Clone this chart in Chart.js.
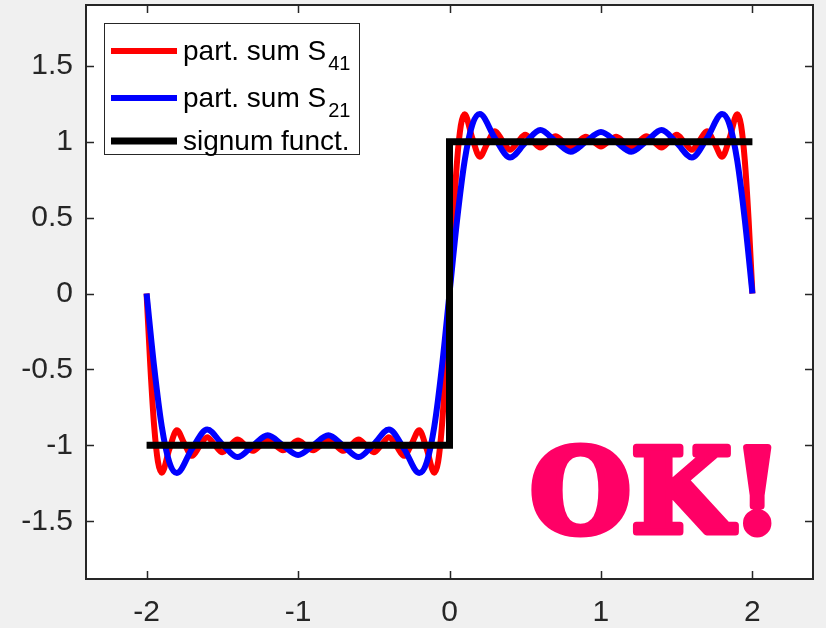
<!DOCTYPE html>
<html>
<head>
<meta charset="utf-8">
<script src="https://cdn.jsdelivr.net/npm/chart.js@4.4.1/dist/chart.umd.min.js"></script>
<style>
  html, body { margin: 0; padding: 0; background: #f0f0f0; }
  #wrap { width: 826px; height: 628px; }
</style>
</head>
<body>
<div id="wrap"><canvas id="c" width="826" height="628"></canvas></div>
<script>
// Partial Fourier sums of the signum function on [-2, 2]
const xS21 = [-2, -1.95, -1.9, -1.85, -1.8, -1.7, -1.6, -1.5, -1.4, -1.3, -1.2, -1.1, -1.0,
  -0.9, -0.8, -0.7, -0.6, -0.5, -0.4, -0.3, -0.2, -0.15, -0.1, -0.05, 0,
  0.05, 0.1, 0.15, 0.2, 0.3, 0.4, 0.5, 0.6, 0.7, 0.8, 0.9, 1.0,
  1.1, 1.2, 1.3, 1.4, 1.5, 1.6, 1.7, 1.8, 1.85, 1.9, 1.95, 2];
const yS21 = [0, -0.483, -0.874, -1.110, -1.182, -1.023, -0.896, -0.992, -1.077, -1.003, -0.934, -0.999, -1.063,
  -0.999, -0.934, -1.003, -1.077, -0.992, -0.896, -1.023, -1.182, -1.110, -0.874, -0.483, 0,
  0.483, 0.874, 1.110, 1.182, 1.023, 0.896, 0.992, 1.077, 1.003, 0.934, 0.999, 1.063,
  0.999, 0.934, 1.003, 1.077, 0.992, 0.896, 1.023, 1.182, 1.110, 0.874, 0.483, 0];

const xS41 = [-2, -1.975, -1.95, -1.925, -1.9, -1.85, -1.8, -1.75, -1.7, -1.65, -1.6, -1.55, -1.5,
  -1.45, -1.4, -1.35, -1.3, -1.25, -1.2, -1.15, -1.1, -1.05, -1.0,
  -0.95, -0.9, -0.85, -0.8, -0.75, -0.7, -0.65, -0.6, -0.55, -0.5,
  -0.45, -0.4, -0.35, -0.3, -0.25, -0.2, -0.15, -0.1, -0.075, -0.05, -0.025, 0,
  0.025, 0.05, 0.075, 0.1, 0.15, 0.2, 0.25, 0.3, 0.35, 0.4, 0.45, 0.5,
  0.55, 0.6, 0.65, 0.7, 0.75, 0.8, 0.85, 0.9, 0.95, 1.0,
  1.05, 1.1, 1.15, 1.2, 1.25, 1.3, 1.35, 1.4, 1.45, 1.5,
  1.55, 1.6, 1.65, 1.7, 1.75, 1.8, 1.85, 1.9, 1.925, 1.95, 1.975, 2];
const yS41 = [0, -0.483, -0.873, -1.108, -1.180, -1.026, -0.901, -0.990, -1.069, -1.005, -0.946, -0.997, -1.045,
  -1.002, -0.961, -0.998, -1.036, -1.001, -0.967, -0.999, -1.032, -1.001, -0.968,
  -1.001, -1.032, -0.999, -0.967, -1.001, -1.036, -0.998, -0.961, -1.002, -1.045,
  -0.997, -0.946, -1.005, -1.069, -0.990, -0.901, -1.026, -1.180, -1.108, -0.873, -0.483, 0,
  0.483, 0.873, 1.108, 1.180, 1.026, 0.901, 0.990, 1.069, 1.005, 0.946, 0.997, 1.045,
  1.002, 0.961, 0.998, 1.036, 1.001, 0.967, 0.999, 1.032, 1.001, 0.968,
  1.001, 1.032, 0.999, 0.967, 1.001, 1.036, 0.998, 0.961, 1.002, 1.045,
  0.997, 0.946, 1.005, 1.069, 0.990, 0.901, 1.026, 1.180, 1.108, 0.873, 0.483, 0];

const xSignum = [-2, 0, 0, 2];
const ySignum = [-1, -1, 1, 1];

const xTickValues = [-2, -1, 0, 1, 2];
const xTickLabels = ['-2', '-1', '0', '1', '2'];
const yTickValues = [-1.5, -1, -0.5, 0, 0.5, 1, 1.5];
const yTickLabels = ['-1.5', '-1', '-0.5', '0', '0.5', '1', '1.5'];

const seriesNames = ['part. sum S', 'part. sum S', 'signum funct.'];
const seriesSubs = ['41', '21', ''];
const seriesColors = ['#ff0000', '#0000ff', '#000000'];
const stampText = 'OK!';

const AXIS = '#262626';
const FONT = '"Liberation Sans", Arial, Helvetica, sans-serif';

function pts(xs, ys) { return xs.map((x, i) => ({ x: x, y: ys[i] })); }

const backdrop = {
  id: 'backdrop',
  beforeDraw(chart) {
    const { ctx, chartArea: a } = chart;
    ctx.save();
    ctx.fillStyle = '#f0f0f0';
    ctx.fillRect(0, 0, chart.width, chart.height);
    ctx.fillStyle = '#ffffff';
    ctx.fillRect(a.left, a.top, a.right - a.left, a.bottom - a.top);
    ctx.restore();
  }
};

const frame = {
  id: 'frame',
  afterDraw(chart) {
    const { ctx, chartArea: a, scales } = chart;
    const tl = 8;
    ctx.save();
    ctx.strokeStyle = AXIS;
    ctx.lineWidth = 2;
    ctx.strokeRect(a.left, a.top, a.right - a.left, a.bottom - a.top);
    ctx.beginPath();
    xTickValues.forEach(v => {
      const px = Math.round(scales.x.getPixelForValue(v)) + 0.5;
      ctx.moveTo(px, a.bottom); ctx.lineTo(px, a.bottom - tl);
      ctx.moveTo(px, a.top); ctx.lineTo(px, a.top + tl);
    });
    yTickValues.forEach(v => {
      const py = Math.round(scales.y.getPixelForValue(v)) + 0.5;
      ctx.moveTo(a.left, py); ctx.lineTo(a.left + tl, py);
      ctx.moveTo(a.right, py); ctx.lineTo(a.right - tl, py);
    });
    ctx.lineWidth = 1.5;
    ctx.stroke();

    // legend box
    const bx = 104, by = 23, bw = 255, bh = 131;
    ctx.fillStyle = '#ffffff';
    ctx.fillRect(bx, by, bw, bh);
    ctx.lineWidth = 1;
    ctx.strokeStyle = AXIS;
    ctx.strokeRect(bx + 0.5, by + 0.5, bw, bh);
    const rowY = [51, 98, 141];
    const widths = [6, 6, 7];
    seriesNames.forEach((name, i) => {
      ctx.beginPath();
      ctx.strokeStyle = seriesColors[i];
      ctx.lineWidth = widths[i];
      ctx.moveTo(111, rowY[i]); ctx.lineTo(177, rowY[i]);
      ctx.stroke();
      ctx.fillStyle = '#000000';
      ctx.textBaseline = 'alphabetic';
      ctx.textAlign = 'left';
      ctx.font = '28px ' + FONT;
      ctx.fillText(name, 183, rowY[i] + 9);
      if (seriesSubs[i]) {
        const w = ctx.measureText(name).width;
        ctx.font = '20px ' + FONT;
        ctx.fillText(seriesSubs[i], 183 + w + 2, rowY[i] + 19);
      }
    });

    // stamp in the lower right corner
    ctx.font = 'bold 116px "DejaVu Serif", serif';
    ctx.fillStyle = '#ff0066';
    ctx.strokeStyle = '#ff0066';
    ctx.lineWidth = 7;
    ctx.lineJoin = 'round';
    ctx.textAlign = 'left';
    ctx.textBaseline = 'alphabetic';
    ctx.fillText(stampText, 530, 532);
    ctx.strokeText(stampText, 530, 532);
    ctx.restore();
  }
};

new Chart(document.getElementById('c'), {
  type: 'line',
  data: {
    datasets: [
      { data: pts(xSignum, ySignum), borderColor: seriesColors[2], borderWidth: 7, tension: 0,
        borderJoinStyle: 'miter', borderCapStyle: 'butt', pointRadius: 0, order: 0 },
      { data: pts(xS21, yS21), borderColor: seriesColors[1], borderWidth: 6, cubicInterpolationMode: 'monotone',
        borderJoinStyle: 'round', pointRadius: 0, order: 1 },
      { data: pts(xS41, yS41), borderColor: seriesColors[0], borderWidth: 6, cubicInterpolationMode: 'monotone',
        borderJoinStyle: 'round', pointRadius: 0, order: 2 }
    ]
  },
  options: {
    responsive: false,
    animation: false,
    devicePixelRatio: 1,
    layout: { padding: { left: 0, right: 13, top: 5, bottom: 0 } },
    plugins: { legend: { display: false }, tooltip: { enabled: false } },
    scales: {
      x: {
        type: 'linear', min: -2.4, max: 2.4,
        grid: { display: false, drawTicks: false },
        border: { display: false },
        afterFit(s) { s.height = 49; s.paddingLeft = 0; s.paddingRight = 0; },
        afterBuildTicks(s) { s.ticks = xTickValues.map(v => ({ value: v })); },
        ticks: {
          color: AXIS, padding: 16, maxRotation: 0,
          font: { family: FONT, size: 30 },
          callback: (v) => xTickLabels[xTickValues.indexOf(v)]
        }
      },
      y: {
        type: 'linear', min: -1.88, max: 1.9,
        grid: { display: false, drawTicks: false },
        border: { display: false },
        afterFit(s) { s.width = 86; s.paddingTop = 0; s.paddingBottom = 0; },
        afterBuildTicks(s) { s.ticks = yTickValues.map(v => ({ value: v })); },
        ticks: {
          color: AXIS, padding: 13,
          font: { family: FONT, size: 30 },
          callback: (v) => yTickLabels[yTickValues.indexOf(v)]
        }
      }
    }
  },
  plugins: [backdrop, frame]
});
</script>
</body>
</html>
